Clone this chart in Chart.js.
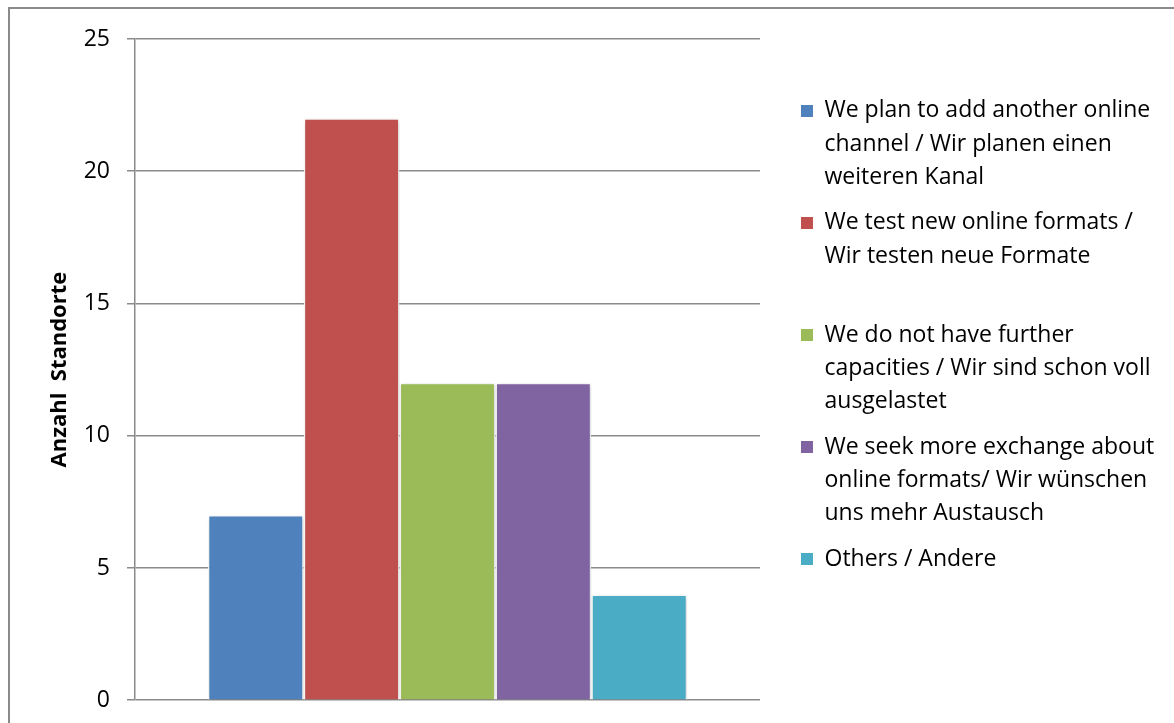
<!DOCTYPE html>
<html lang="de">
<head>
  <meta charset="UTF-8" />
  <title>Anzahl Standorte</title>
  <script src="https://cdn.jsdelivr.net/npm/chart.js@4/dist/chart.umd.min.js"></script>
  <style>
    html, body { margin: 0; padding: 0; background: #fff; overflow: hidden; }
    .wrap { position: relative; width: 1174px; height: 723px; overflow: hidden; }
    .frame { position: absolute; left: 8px; top: 7px; width: 1300px; height: 900px;
             border: 2px solid #8a8a8a; pointer-events: none; }
  </style>
</head>
<body>
  <div class="wrap">
    <!-- etwas höher als das Fenster, damit die Nulllinie bei y=700 liegt -->
    <canvas id="chart" width="1174" height="731"></canvas>
    <div class="frame"></div>
  </div>

  <script>
    // Daten
    const categories = [''];
    const seriesNames = [
      ['We plan to add another online', 'channel / Wir planen einen', 'weiteren Kanal'],
      ['We test new online formats /', 'Wir testen neue Formate', ''],
      ['We do not have further', 'capacities / Wir sind schon voll', 'ausgelastet'],
      ['We seek more exchange about', 'online formats/ Wir wünschen', 'uns mehr Austausch'],
      ['Others / Andere', '', '']
    ];
    const seriesValues = [7, 22, 12, 12, 4];
    const seriesColors = ['#4F81BD', '#C0504D', '#9BBB59', '#8064A2', '#4BACC6'];
    const yMin = 0, yMax = 25, yStep = 5;
    const yTitle = 'Anzahl  Standorte';

    const FONT = 'Open Sans';

    const datasets = seriesNames.map((name, i) => ({
      label: name,
      data: [seriesValues[i]],
      backgroundColor: seriesColors[i],
      borderColor: '#ffffff',
      borderWidth: 1.5,
      categoryPercentage: 0.767,
      barPercentage: 1.0
    }));

    // leichter Schatten hinter den Balken
    const barShadow = {
      id: 'barShadow',
      beforeDatasetsDraw(chart) {
        const ctx = chart.ctx;
        ctx.save();
        ctx.shadowColor = 'rgba(0,0,0,0.22)';
        ctx.shadowBlur = 5;
        ctx.shadowOffsetX = 1;
        ctx.shadowOffsetY = 1;
      },
      afterDatasetsDraw(chart) {
        chart.ctx.restore();
      }
    };

    // die Legende darf breiter werden als Chart.js normalerweise erlaubt
    const wideLegend = {
      id: 'wideLegend',
      beforeInit(chart) {
        const legend = chart.legend;
        const fit = legend.fit;
        legend.fit = function () {
          this.maxWidth = 600;
          fit.call(this);
        };
      }
    };

    new Chart(document.getElementById('chart'), {
      type: 'bar',
      data: { labels: categories, datasets },
      options: {
        responsive: false,
        animation: false,
        events: [],
        layout: { padding: { left: 47, top: 39, bottom: 23, right: 13.5 } },
        scales: {
          x: { display: false },
          y: {
            min: yMin, max: yMax,
            ticks: { stepSize: yStep, color: '#000', padding: 17, font: { family: FONT, size: 23 } },
            grid: { color: '#8a8a8a', lineWidth: 1.5, tickLength: 8, tickColor: '#8a8a8a' },
            border: { display: true, color: '#8a8a8a', width: 1.5 },
            title: {
              display: true, text: yTitle, color: '#000',
              font: { family: FONT, size: 22, weight: 'bold' },
              padding: 0
            },
            afterFit(axis) { axis.width = 88; }
          },
          // Abstand zwischen Zeichenfläche und Legende
          gap: {
            position: 'right', display: true,
            grid: { display: false }, ticks: { display: false }, border: { display: false },
            afterFit(axis) { axis.width = 29; }
          }
        },
        plugins: {
          tooltip: { enabled: false },
          legend: {
            position: 'right',
            labels: {
              color: '#000',
              boxWidth: 12, boxHeight: 12, padding: 12,
              font: { family: FONT, size: 23, lineHeight: 1.45 },
              generateLabels(c) {
                return c.data.datasets.map((ds, i) => ({
                  text: ds.label, fillStyle: ds.backgroundColor, strokeStyle: ds.backgroundColor,
                  lineWidth: 0, hidden: false, datasetIndex: i
                }));
              }
            }
          }
        }
      },
      plugins: [barShadow, wideLegend]
    });
  </script>
</body>
</html>
